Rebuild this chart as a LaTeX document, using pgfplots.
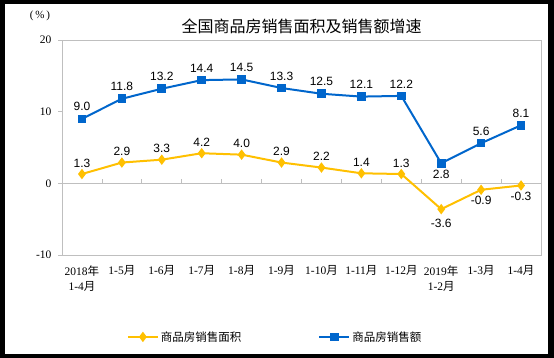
\documentclass[border=0pt]{standalone}
\usepackage{fontspec}
\usepackage{pgfplots}
\usepackage{pgfplotstable}
\pgfplotsset{compat=1.18}
\setmainfont{Liberation Serif}
\setsansfont{Liberation Sans}
\newfontfamily\cjk{Noto Sans CJK SC}
\newcommand{\yue}{{\cjk 月}}
\newcommand{\nian}{{\cjk 年}}
\definecolor{cblue}{RGB}{0,102,204}
\definecolor{cyellow}{RGB}{255,192,0}
\definecolor{cgray}{RGB}{191,191,191}
\pgfplotstableread{
x area alab aoff sales slab soff
0 1.3 1.3 11 9.0 9.0 12
1 2.9 2.9 11 11.8 11.8 12
2 3.3 3.3 11 13.2 13.2 12
3 4.2 4.2 11 14.4 14.4 12
4 4.0 4.0 11 14.5 14.5 12
5 2.9 2.9 11 13.3 13.3 12
6 2.2 2.2 11 12.5 12.5 12
7 1.4 1.4 11 12.1 12.1 12
8 1.3 1.3 11 12.2 12.2 12
9 -3.6 -3.6 -14 2.8 2.8 -11
10 -0.9 -0.9 -11 5.6 5.6 12
11 -0.3 -0.3 -11 8.1 8.1 12
}\datatable
\begin{document}
\begin{tikzpicture}[x=1pt,y=1pt]
\useasboundingbox (0,0) rectangle (554,358);
\fill[black] (0,0) rectangle (554,358);
\fill[white] (5,4) rectangle (548,354);
\node[font=\cjk\fontsize{16}{18}\selectfont] at (301.5,332) {全国商品房销售面积及销售额增速};
\node[font=\rmfamily\fontsize{11}{13}\selectfont] at (40,342) {(\,\%\,)};
\begin{axis}[
  at={(62pt,103pt)}, anchor=south west,
  scale only axis, width=479pt, height=215pt,
  xmin=-0.5, xmax=11.5, ymin=-10, ymax=20,
  ytick={-10,0,10,20},
  xtick={0,...,11},
  xticklabels={{2018\nian\\1-4\yue},{1-5\yue},{1-6\yue},{1-7\yue},{1-8\yue},{1-9\yue},{1-10\yue},{1-11\yue},{1-12\yue},{2019\nian\\1-2\yue},{1-3\yue},{1-4\yue}},
  x tick style={draw=none},
  y tick style={draw=cgray, line width=0.8pt},
  ytick align=outside, ytick pos=left,
  major tick length=4pt,
  axis line style={draw=cgray, line width=0.8pt},
  /pgf/number format/assume math mode=true,
  yticklabel style={font=\rmfamily\fontsize{11.5}{13}\selectfont, xshift=-3pt},
  xticklabel style={font=\rmfamily\fontsize{11.5}{15.5}\selectfont, align=center, anchor=north, yshift=-7pt},
  point meta=explicit symbolic,
  nodes near coords,
  legend columns=2,
  legend style={draw=none, fill=none, at={(0.445,-0.381)}, anchor=center,
    font=\cjk\fontsize{11.5}{13}\selectfont,
    /tikz/every even column/.append style={column sep=75pt}},
  legend image code/.code={\draw[mark repeat=2,mark phase=2,#1] plot coordinates {(0pt,0pt)(15pt,0pt)(30pt,0pt)};},
  clip=false,
]
\draw[cgray, line width=0.8pt] (axis cs:-0.5,0) -- (axis cs:11.5,0);
\pgfplotsinvokeforeach{0.5,1.5,2.5,3.5,4.5,5.5,6.5,7.5,8.5,9.5,10.5}{\draw[cgray, line width=0.8pt] (axis cs:#1,0) -- (axis cs:#1,0.55);}
\addplot[color=cyellow, line width=2pt, mark=diamond*, mark size=3.6pt,
  visualization depends on={\thisrow{aoff} \as \off},
  nodes near coords style={anchor=center, yshift=\off, font=\sffamily\fontsize{12}{14}\selectfont, text=black}]
  table[x=x, y=area, meta=alab] {\datatable};
\addlegendentry{商品房销售面积}
\addplot[color=cblue, line width=2pt, mark=square*, mark size=3.3pt,
  visualization depends on={\thisrow{soff} \as \off},
  nodes near coords style={anchor=center, yshift=\off, font=\sffamily\fontsize{12}{14}\selectfont, text=black}]
  table[x=x, y=sales, meta=slab] {\datatable};
\addlegendentry{商品房销售额}
\end{axis}
\end{tikzpicture}
\end{document}
